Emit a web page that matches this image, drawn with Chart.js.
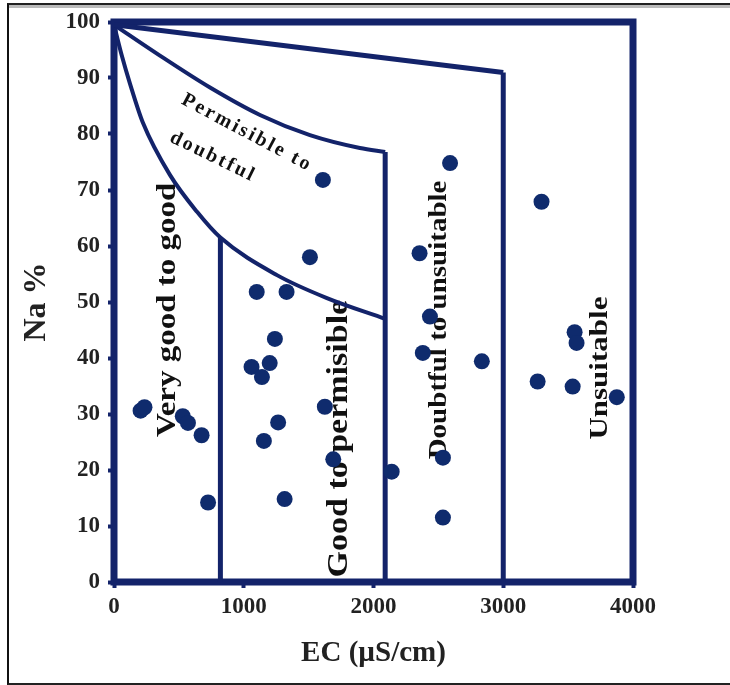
<!DOCTYPE html>
<html>
<head>
<meta charset="utf-8">
<script src="https://cdn.jsdelivr.net/npm/chart.js@4.4.1/dist/chart.umd.min.js"></script>
<style>
    body { margin: 0; background: #fff; }
    #wrap { position: relative; width: 730px; height: 685px; overflow: hidden; }
    #frame {
        position: absolute; left: 7px; top: 3px; width: 730px; height: 678px;
        border-left: 2px solid #111; border-top: 2px solid #222; border-bottom: 2px solid #222;
        box-shadow: inset 0 3px 0 #bbb;
    }
    #wilcox { position: absolute; left: 0; top: 0; }
</style>
</head>
<body>
<div id="wrap">
    <div id="frame"></div>
    <canvas id="wilcox" width="730" height="685"></canvas>
</div>
<script>
// sample points (EC in µS/cm, Na %)
const ecValues = [205, 235, 530, 570, 675, 725, 1100, 1330, 1240, 1060, 1140, 1200, 1265, 1155, 1315,
    1610, 1510, 1625, 1690, 2140, 2590, 2355, 2435, 2380, 2535, 2535, 2835, 3295, 3265, 3535, 3550, 3565, 3875];
const naValues = [30.6, 31.2, 29.6, 28.4, 26.2, 14.2, 51.8, 51.8, 43.4, 38.4, 36.6, 39.1, 28.5, 25.2, 14.8,
    71.8, 58.0, 31.3, 21.9, 19.7, 74.8, 58.7, 47.4, 40.9, 22.2, 11.5, 39.4, 67.9, 35.8, 34.9, 44.6, 42.7, 33.0];

// Wilcox class boundaries
const topLineEc = [0, 3000];
const topLineNa = [99.5, 91];
const upperCurveEc = [0, 354, 740, 1125, 1510, 1895, 2090];
const upperCurveNa = [99.5, 94.0, 88.3, 83.4, 79.8, 77.5, 76.8];
const lowerCurveEc = [0, 60, 123, 223, 431, 640, 820, 1256, 1641, 2090];
const lowerCurveNa = [99.5, 94, 89, 82, 72.7, 66.1, 61.5, 54.8, 50.7, 47.0];
const dividerEc = [820, 2090, 3000];
const dividerTopNa = [61.5, 76.8, 91];

const xTicks = [0, 1000, 2000, 3000, 4000];
const yTicks = [0, 10, 20, 30, 40, 50, 60, 70, 80, 90, 100];

const navy = '#13236a';
const dotColor = '#0f2b6d';
const serif = "'Liberation Serif', 'Times New Roman', serif";

const zip = (xs, ys) => xs.map((x, i) => ({x: x, y: ys[i]}));

const lineSet = (pts, width, monotone) => ({
    data: pts,
    showLine: true,
    borderColor: navy,
    borderWidth: width,
    pointRadius: 0,
    fill: false,
    cubicInterpolationMode: monotone ? 'monotone' : 'default',
    order: 2
});

const datasets = [
    lineSet(zip(topLineEc, topLineNa), 5, false),
    lineSet(zip(upperCurveEc, upperCurveNa), 4, true),
    lineSet(zip(lowerCurveEc, lowerCurveNa), 4, true)
];
dividerEc.forEach((ec, i) => {
    datasets.push(lineSet([{x: ec, y: 0}, {x: ec, y: dividerTopNa[i]}], 5, false));
});
datasets.push({
    data: zip(ecValues, naValues),
    pointRadius: 8,
    pointHoverRadius: 8,
    backgroundColor: dotColor,
    borderWidth: 0,
    order: 1
});

// zone names, placed in data units
const zoneLabels = [
    {text: 'Very good to good', x: 416, y: 48.6, size: 33, angle: -90, squeeze: 0.85, spacing: 0},
    {text: 'Good to permisible', x: 1741, y: 25.6, size: 34, angle: -90, squeeze: 0.85, spacing: 0},
    {text: 'Doubtful to unsuitable', x: 2512, y: 46.8, size: 29, angle: -90, squeeze: 0.85, spacing: 0},
    {text: 'Unsuitable', x: 3752, y: 38.2, size: 31, angle: -90, squeeze: 0.78, spacing: 0},
    {text: 'Permisible to', x: 1025, y: 80.2, size: 20, angle: 28, squeeze: 1, spacing: 2.5},
    {text: 'doubtful', x: 763, y: 75.9, size: 20, angle: 26, squeeze: 1, spacing: 2.5}
];

const framePlugin = {
    id: 'frame',
    beforeDatasetsDraw(chart) {
        const a = chart.chartArea;
        const ctx = chart.ctx;
        ctx.save();
        ctx.strokeStyle = navy;
        ctx.lineWidth = 7;
        ctx.strokeRect(a.left, a.top, a.right - a.left, a.bottom - a.top);
        ctx.fillStyle = '#111';
        ctx.textAlign = 'center';
        ctx.textBaseline = 'middle';
        zoneLabels.forEach(l => {
            const px = chart.scales.x.getPixelForValue(l.x);
            const py = chart.scales.y.getPixelForValue(l.y);
            ctx.save();
            ctx.translate(px, py);
            ctx.scale(l.squeeze, 1);
            ctx.rotate(l.angle * Math.PI / 180);
            ctx.font = 'bold ' + l.size + 'px ' + serif;
            ctx.letterSpacing = l.spacing + 'px';
            ctx.fillText(l.text, 0, 0);
            ctx.restore();
        });
        ctx.restore();
    }
};

new Chart(document.getElementById('wilcox'), {
    type: 'scatter',
    data: {datasets: datasets},
    plugins: [framePlugin],
    options: {
        responsive: false,
        animation: false,
        devicePixelRatio: 1,
        layout: {padding: {top: 22, right: 97, left: 0, bottom: 0}},
        plugins: {legend: {display: false}, tooltip: {enabled: false}},
        scales: {
            x: {
                type: 'linear',
                min: 0,
                max: 4000,
                afterBuildTicks: s => { s.ticks = xTicks.map(v => ({value: v})); },
                afterFit: s => { s.height = 103; },
                ticks: {color: '#222', padding: 5, callback: v => String(v),
                    font: {family: serif, size: 23, weight: 'bold'}},
                grid: {drawOnChartArea: false, drawTicks: true, tickLength: 6, tickWidth: 4, color: navy},
                border: {display: false},
                title: {display: true, text: 'EC (µS/cm)', color: '#222',
                    font: {family: serif, size: 29, weight: 'bold'}, padding: {top: 4, bottom: 14}}
            },
            y: {
                min: 0,
                max: 100,
                afterBuildTicks: s => { s.ticks = yTicks.map(v => ({value: v})); },
                afterFit: s => { s.width = 114; },
                ticks: {color: '#222', padding: 8, font: {family: serif, size: 23, weight: 'bold'}},
                grid: {drawOnChartArea: false, drawTicks: true, tickLength: 6, tickWidth: 4, color: navy},
                border: {display: false},
                title: {display: true, text: 'Na %', color: '#222',
                    font: {family: serif, size: 32, weight: 'bold'}, padding: {top: 18, bottom: 0}}
            }
        }
    }
});
</script>
</body>
</html>
